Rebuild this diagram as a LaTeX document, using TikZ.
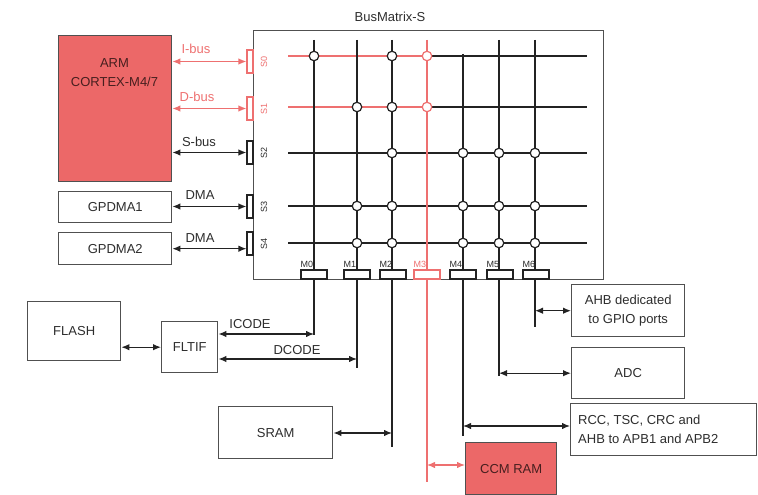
\documentclass[tikz,border=0pt]{standalone}
\usepackage{fontspec}
\setmainfont{Liberation Sans}
\usetikzlibrary{arrows.meta}
\definecolor{armred}{RGB}{236,104,104}
\definecolor{linered}{RGB}{238,112,112}
\definecolor{ink}{RGB}{35,35,35}
\definecolor{txt}{RGB}{45,45,45}
\definecolor{frame}{RGB}{80,80,80}
\begin{document}
\begin{tikzpicture}[x=1pt,y=-1pt,
  font=\fontsize{13}{15}\selectfont,
  box/.style={draw=frame, line width=1.4pt, fill=white, inner sep=0pt, anchor=north west, text=txt},
  portS/.style={draw=ink, fill=white, minimum width=6pt, minimum height=23pt, inner sep=0pt, line width=1.2pt},
  portM/.style={draw=ink, fill=white, minimum width=26pt, minimum height=9pt, inner sep=0pt, line width=1.2pt},
  xing/.style={circle, draw=ink, fill=white, minimum size=9.5pt, inner sep=0pt, line width=1.2pt},
  gridl/.style={draw=ink, line width=1.5pt},
  redl/.style={draw=linered, line width=1.5pt},
  bi/.style={line width=1.2pt, draw=ink, {Latex[length=8pt,width=6.5pt]}-{Latex[length=8pt,width=6.5pt]}},
  small/.style={font=\fontsize{9}{11}\selectfont, text=txt, inner sep=0pt},
  lbl/.style={text=txt, inner sep=0pt}
]
\useasboundingbox (0,0) rectangle (758,495);

% ---------- left side blocks ----------
\node[box, fill=armred, minimum width=113pt, minimum height=146pt] (arm) at (58,35) {};
\node[lbl, text=black!70!armred] (armA) at (114.5,63) {ARM};
\node[lbl, text=black!70!armred] (armB) at (114.5,82) {CORTEX-M4/7};
\node[box, minimum width=113pt, minimum height=31pt] (gp1) at (58,191) {};
\node[lbl] (gp1t) at (gp1.center) {GPDMA1};
\node[box, minimum width=113pt, minimum height=32pt] (gp2) at (58,232) {};
\node[lbl] (gp2t) at (gp2.center) {GPDMA2};

% ---------- bus matrix ----------
\node[box, minimum width=350pt, minimum height=249pt] (bm) at (253,30) {};
\node[lbl] (bmt) at (390,17) {BusMatrix-S};

% slave ports
\node[portS, draw=linered] (s0) at (250,61.5) {};
\node[portS, draw=linered] (s1) at (250,108.5) {};
\node[portS] (s2) at (250,152.5) {};
\node[portS] (s3) at (250,206.5) {};
\node[portS] (s4) at (250,243.5) {};
\node[small, rotate=90, text=linered] (s0l) at (264,61.5) {S0};
\node[small, rotate=90, text=linered] (s1l) at (264,108.5) {S1};
\node[small, rotate=90] (s2l) at (264,152.5) {S2};
\node[small, rotate=90] (s3l) at (264,206.5) {S3};
\node[small, rotate=90] (s4l) at (264,243.5) {S4};

% row coordinates
\coordinate (r0L) at (288,56);  \coordinate (r0R) at (587,56);
\coordinate (r1L) at (288,107); \coordinate (r1R) at (587,107);
\coordinate (r2L) at (288,153); \coordinate (r2R) at (587,153);
\coordinate (r3L) at (288,206); \coordinate (r3R) at (587,206);
\coordinate (r4L) at (288,243); \coordinate (r4R) at (587,243);

% column coordinates (top / bottom)
\coordinate (c0T) at (314,40);  \coordinate (c0B) at (314,335);
\coordinate (c1T) at (357,40);  \coordinate (c1B) at (357,368);
\coordinate (c2T) at (392,40);  \coordinate (c2B) at (392,447);
\coordinate (c3T) at (427,40);  \coordinate (c3B) at (427,482);
\coordinate (c4T) at (463,54);  \coordinate (c4B) at (463,436);
\coordinate (c5T) at (499,40);  \coordinate (c5B) at (499,376);
\coordinate (c6T) at (535,40);  \coordinate (c6B) at (535,327);

% rows
\draw[redl] (r0L) -- (r0L -| c3T);
\draw[gridl] (r0L -| c3T) -- (r0R);
\draw[redl] (r1L) -- (r1L -| c3T);
\draw[gridl] (r1L -| c3T) -- (r1R);
\draw[gridl] (r2L) -- (r2R);
\draw[gridl] (r3L) -- (r3R);
\draw[gridl] (r4L) -- (r4R);

% columns
\draw[gridl] (c0T) -- (c0B);
\draw[gridl] (c1T) -- (c1B);
\draw[gridl] (c2T) -- (c2B);
\draw[redl]  (c3T) -- (c3B);
\draw[gridl] (c4T) -- (c4B);
\draw[gridl] (c5T) -- (c5B);
\draw[gridl] (c6T) -- (c6B);

% crossing points
\node[xing] (x00) at (r0L -| c0T) {};
\node[xing] (x02) at (r0L -| c2T) {};
\node[xing, draw=linered] (x03) at (r0L -| c3T) {};
\node[xing] (x11) at (r1L -| c1T) {};
\node[xing] (x12) at (r1L -| c2T) {};
\node[xing, draw=linered] (x13) at (r1L -| c3T) {};
\node[xing] (x22) at (r2L -| c2T) {};
\node[xing] (x24) at (r2L -| c4T) {};
\node[xing] (x25) at (r2L -| c5T) {};
\node[xing] (x26) at (r2L -| c6T) {};
\node[xing] (x31) at (r3L -| c1T) {};
\node[xing] (x32) at (r3L -| c2T) {};
\node[xing] (x34) at (r3L -| c4T) {};
\node[xing] (x35) at (r3L -| c5T) {};
\node[xing] (x36) at (r3L -| c6T) {};
\node[xing] (x41) at (r4L -| c1T) {};
\node[xing] (x42) at (r4L -| c2T) {};
\node[xing] (x44) at (r4L -| c4T) {};
\node[xing] (x45) at (r4L -| c5T) {};
\node[xing] (x46) at (r4L -| c6T) {};

% master ports
\node[portM] (m0) at (314,274.5) {};
\node[portM] (m1) at (357,274.5) {};
\node[portM] (m2) at (393,274.5) {};
\node[portM, draw=linered] (m3) at (427,274.5) {};
\node[portM] (m4) at (463,274.5) {};
\node[portM] (m5) at (500,274.5) {};
\node[portM] (m6) at (536,274.5) {};
\node[small, anchor=south west] (m0l) at ([yshift=1.5pt]m0.north west) {M0};
\node[small, anchor=south west] (m1l) at ([yshift=1.5pt]m1.north west) {M1};
\node[small, anchor=south west] (m2l) at ([yshift=1.5pt]m2.north west) {M2};
\node[small, anchor=south west, text=linered] (m3l) at ([yshift=1.5pt]m3.north west) {M3};
\node[small, anchor=south west] (m4l) at ([yshift=1.5pt]m4.north west) {M4};
\node[small, anchor=south west] (m5l) at ([yshift=1.5pt]m5.north west) {M5};
\node[small, anchor=south west] (m6l) at ([yshift=1.5pt]m6.north west) {M6};

% ---------- slave side connectors ----------
\draw[bi, draw=linered, color=linered] (arm.east |- s0.west) -- (s0.west);
\node[lbl, text=linered] (ibus) at (196,49) {I-bus};
\draw[bi, draw=linered, color=linered] (arm.east |- s1.west) -- (s1.west);
\node[lbl, text=linered] (dbus) at (197,97) {D-bus};
\draw[bi] (arm.east |- s2.west) -- (s2.west);
\node[lbl] (sbus) at (199,142) {S-bus};
\draw[bi] (gp1.east |- s3.west) -- (s3.west);
\node[lbl] (dma1) at (200,195) {DMA};
\draw[bi] (gp2.east) -- (gp2.east -| s4.west);
\node[lbl] (dma2) at (200,238) {DMA};

% ---------- bottom blocks ----------
\node[box, minimum width=93pt, minimum height=59pt] (flash) at (27,301) {};
\node[lbl] (flasht) at (flash.center) {FLASH};
\node[box, minimum width=56pt, minimum height=51pt] (fltif) at (161,321) {};
\node[lbl] (fltift) at (fltif.center) {FLTIF};
\draw[bi] (flash.east |- fltif.west) -- (fltif.west);

\coordinate (icode) at (314,334);
\coordinate (dcode) at (357,359);
\draw[bi] (fltif.east |- icode) -- (icode);
\node[lbl] (icodel) at (250,324) {ICODE};
\draw[bi] (fltif.east |- dcode) -- (dcode);
\node[lbl] (dcodel) at (297,350) {DCODE};

\node[box, minimum width=114pt, minimum height=52pt] (sram) at (218,406) {};
\node[lbl] (sramt) at (sram.center) {SRAM};
\coordinate (sramc) at (392,433);
\draw[bi] (sram.east |- sramc) -- (sramc);

\node[box, fill=armred, minimum width=91pt, minimum height=52pt] (ccm) at (465,442) {};
\node[lbl, text=black!70!armred] (ccmt) at (ccm.center) {CCM RAM};
\coordinate (ccmc) at (427,465);
\draw[bi, draw=linered, color=linered] (ccmc) -- (ccm.west |- ccmc);

\node[box, minimum width=186pt, minimum height=52pt] (rcc) at (570,403) {};
\node[lbl, align=left, anchor=west, font=\fontsize{13}{19}\selectfont] (rcct) at ([xshift=8pt]rcc.west) {RCC, TSC, CRC and\\AHB to APB1 and APB2};
\coordinate (rccc) at (463,426);
\draw[bi] (rccc) -- (rcc.west |- rccc);

\node[box, minimum width=113pt, minimum height=51pt] (adc) at (571,347) {};
\node[lbl] (adct) at (adc.center) {ADC};
\draw[bi] (adc.west -| c5B) -- (adc.west);

\node[box, minimum width=113pt, minimum height=52pt] (ahb) at (571,284) {};
\node[lbl, align=center, font=\fontsize{13}{19}\selectfont] (ahbt) at (ahb.center) {AHB dedicated\\to GPIO ports};
\draw[bi] (ahb.west -| c6B) -- (ahb.west);
\end{tikzpicture}
\end{document}
